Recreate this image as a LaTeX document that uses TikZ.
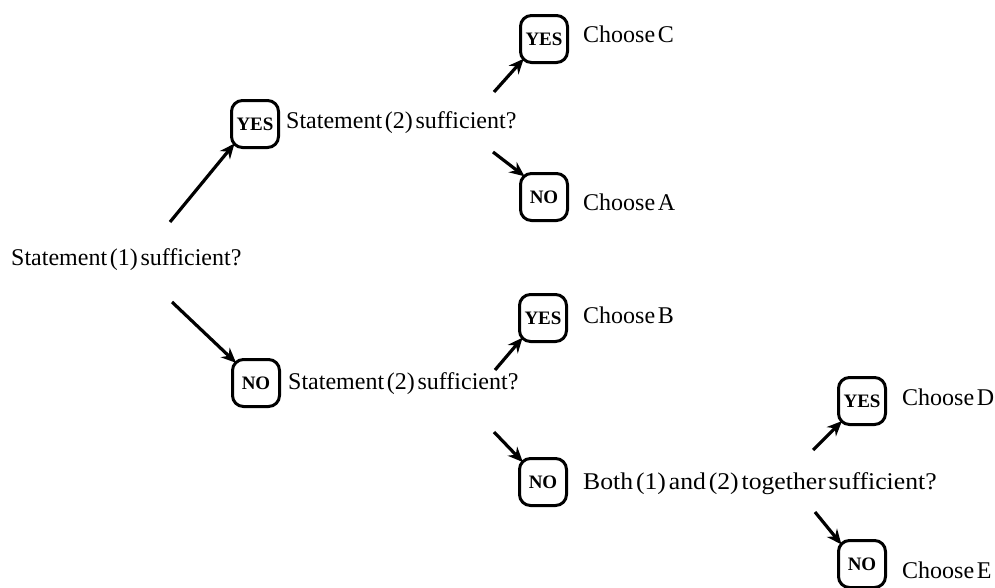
\documentclass[tikz,border=0pt]{standalone}
\usepackage{fontspec}
\setmainfont[WordSpace=0.45]{Liberation Serif}
\usetikzlibrary{arrows.meta}
\begin{document}
\begin{tikzpicture}[x=1pt,y=-1pt,
  txt/.style={anchor=west,inner sep=0pt,font=\fontsize{24}{24}\selectfont},
  ans/.style={draw,line width=3pt,rounded corners=11pt,minimum width=47pt,minimum height=47pt,inner sep=0pt,font=\fontsize{19}{19}\selectfont\bfseries},
  arr/.style={line width=3.2pt,shorten >=-7pt,-{Stealth[length=15pt,width=13pt]}}]
\useasboundingbox (0,0) rectangle (995,587);
% first level
\node[txt] (s1) at (11,260) {Statement (1) sufficient?};
\node[ans] (y1) at (255,124) {YES};
\node[txt] (s2a) at (286,123) {Statement (2) sufficient?};
\node[ans] (n1) at (256,383) {NO};
\node[txt] (s2b) at (288,384) {Statement (2) sufficient?};
% upper branch
\node[ans] (yc) at (544,39) {YES};
\node[txt] (cc) at (583,34) {Choose C};
\node[ans] (na) at (544,197) {NO};
\node[txt] (ca) at (583,202) {Choose A};
% lower branch
\node[ans] (yb) at (543,318) {YES};
\node[txt] (cb) at (583,315) {Choose B};
\node[ans] (nb) at (543,482) {NO};
\node[txt] (both) at (583,484) {\scalebox{1.07}[1]{Both (1) and (2) together sufficient?}};
\node[ans] (yd) at (862,401) {YES};
\node[txt] (cd) at (902,397) {Choose D};
\node[ans] (ne) at (862,564) {NO};
\node[txt] (ce) at (902,570) {Choose E};
% connectors
\coordinate (a1) at (170,222);
\coordinate (a2) at (172,302);
\coordinate (a3) at (494,92);
\coordinate (a4) at (493,152);
\coordinate (a5) at (495,370);
\coordinate (a6) at (494,432);
\coordinate (a7) at (813,450);
\coordinate (a8) at (815,512);
\draw[arr] (a1) -- (y1.south west);
\draw[arr] (a2) -- (n1.north west);
\draw[arr] (a3) -- (yc.south west);
\draw[arr] (a4) -- (na.north west);
\draw[arr] (a5) -- (yb.south west);
\draw[arr] (a6) -- (nb.north west);
\draw[arr] (a7) -- (yd.south west);
\draw[arr] (a8) -- (ne.north west);
\end{tikzpicture}
\end{document}
